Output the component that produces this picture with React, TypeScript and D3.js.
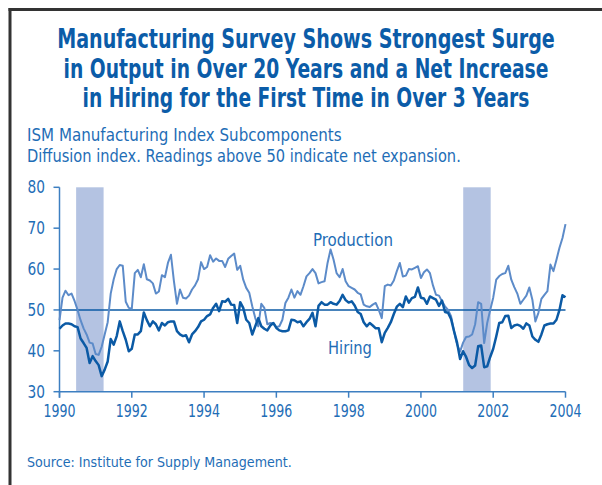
import React, { useLayoutEffect, useRef, useState } from "react";
import * as d3 from "d3";

const titleLines = [
  "Manufacturing Survey Shows Strongest Surge",
  "in Output in Over 20 Years and a Net Increase",
  "in Hiring for the First Time in Over 3 Years",
];
const subtitleLines = [
  "ISM Manufacturing Index Subcomponents",
  "Diffusion index. Readings above 50 indicate net expansion.",
];
const sourceText = "Source: Institute for Supply Management.";

const startYear = 1990;
const yTicks = [30, 40, 50, 60, 70, 80];
const xTicks = [1990, 1992, 1994, 1996, 1998, 2000, 2002, 2004];
const recessions = [
  [1990.46, 1991.22],
  [2001.17, 2001.93],
];

// Monthly, Jan 1990 - Jan 2004
const production = [
  47.5, 53, 54.7, 53.6, 54, 52.2, 50, 47.5, 45.5, 44, 42, 41.8,
  39.2, 39, 41, 44, 47, 54, 57.5, 60, 61, 60.8, 52, 50.5,
  50.3, 59, 59.8, 58, 61.2, 57.5, 57.2, 56.5, 54, 54.5, 58.5, 58,
  61.5, 63.5, 57, 51.5, 55, 53, 52.8, 53.5, 55, 56, 57.5, 61.7,
  60, 60.5, 63.4, 61.8, 62.6, 62, 62, 60.5, 62.5, 63.2, 63.8, 59.8,
  60.8, 57.4, 55.4, 54.2, 50.9, 48, 46, 51.5, 50.5, 46.5, 46.8, 46.7,
  45.8, 46, 47.6, 51.7, 53, 55, 53, 54.6, 53.7, 55.8, 58.2, 59,
  60, 59, 56.5, 56.8, 57, 61.5, 64.8, 62.3, 59, 58, 60, 57,
  55.8, 55.4, 55, 54.2, 53.8, 51.3, 50.9, 50.7, 51.3, 51.7, 50, 48,
  55.8, 56.2, 56, 57.2, 59.5, 61.5, 58.2, 58.4, 60, 59.9, 60.3, 60.7,
  57.8, 59.2, 59.9, 59, 56, 53.7, 53.5, 52.1, 50.9, 50, 48.5, 44.8,
  41.5, 39.8, 42, 43.4, 43.5, 44, 46.5, 51.9, 51.5, 41.9, 46.8, 50,
  53, 57.4, 58.3, 58.8, 59, 60.8, 57.4, 55.6, 54, 51.5, 52.5, 53.5,
  55.5, 52.5, 47.2, 49.3, 52.7, 53.7, 54.6, 61.1, 59.5, 62.3, 65.2, 67.6,
  71,
];

const hiring = [
  45.4, 46.2, 46.7, 46.7, 46.5, 46, 45.8, 43, 41.9, 40.7, 37, 38.7,
  37.5, 36.5, 33.8, 35.4, 37.4, 42.9, 41.5, 43.6, 47.2, 44.8, 42.7, 39.9,
  40.5, 44, 44, 44.8, 49.4, 47.5, 46, 47.2, 46.5, 45, 46.8, 46.2,
  47, 47.2, 47.2, 44.8, 44, 43.6, 43.8, 42.1, 44, 44.8, 45.8, 47.2,
  47.6, 48.5, 48.9, 50.5, 51.5, 49.7, 52.1, 52, 52.7, 51.3, 51.2, 46.8,
  51.9, 50.5, 47.6, 46.8, 44, 46, 48, 46, 45.4, 45, 46.2, 46.8,
  45.6, 45, 44.8, 44.8, 45, 47.6, 47.5, 47, 47.2, 46, 47, 47.8,
  49.3, 46, 51, 51.9, 51.3, 51.3, 51.9, 51.5, 51.3, 52.2, 53.7, 52.4,
  51.8, 52.1, 51.1, 49.5, 49, 47, 46, 46.8, 46.2, 45.5, 45.5, 42.1,
  44.4, 45.6, 47, 49, 50.8, 51.5, 50.7, 53.3, 51.8, 52.9, 53.2, 55.5,
  53, 52.8, 51.5, 53.3, 52.9, 52.5, 51, 52.3, 49.5, 49.3, 47.8, 44.8,
  42, 38, 39.9, 38.5, 36.5, 35.8, 36.4, 41.1, 41.3, 36, 36.2, 38.5,
  40.5, 43.5, 46.8, 47, 48.5, 48.6, 45.6, 46.2, 46.4, 46.1, 45.4, 46.7,
  46.2, 43.5, 42.7, 42.2, 44, 46.2, 46.5, 46.7, 46.7, 47.6, 50, 53.6,
  53.1,
];

const FONT = "'Liberation Sans Narrow', 'DejaVu Sans Condensed', 'Liberation Sans', sans-serif";
const TITLE_BLUE = "#0b5ca8";
const TEXT_BLUE = "#1e6db6";
const AXIS_BLUE = "#3d7fc1";
const PROD_COLOR = "#5c8bc9";
const HIRE_COLOR = "#0b5aa5";
const SHADE = "#b4c3e2";

type FitProps = {
  x: number;
  y: number;
  width: number;
  anchor?: "start" | "middle" | "end";
  fontSize: number;
  fontWeight?: string;
  fill: string;
  children: string;
};

function FitText({ x, y, width, anchor = "start", fontSize, fontWeight, fill, children }: FitProps) {
  const ref = useRef<SVGTextElement>(null);
  const [sx, setSx] = useState(1);
  useLayoutEffect(() => {
    if (ref.current) {
      const w = ref.current.getComputedTextLength();
      if (w > 0) setSx(width / w);
    }
  }, [width, children]);
  return (
    <text
      ref={ref}
      transform={`translate(${x},${y}) scale(${sx},1)`}
      textAnchor={anchor}
      fontSize={fontSize}
      fontWeight={fontWeight}
      fill={fill}
    >
      {children}
    </text>
  );
}

export default function App() {
  const W = 602;
  const H = 485;
  const x = d3.scaleLinear().domain([1990, 2004]).range([59.5, 565.5]);
  const y = d3.scaleLinear().domain([30, 80]).range([391.7, 187.3]);
  const t = (i: number) => startYear + i / 12;

  const line = d3
    .line<number>()
    .x((_, i) => x(t(i)))
    .y((d) => y(d));

  const titleLens = [498, 485, 447];
  const titleBase = [48, 78, 107];

  return (
    <svg
      width={W}
      height={H}
      style={{ position: "absolute", left: 0, top: 0, background: "#fff" }}
      fontFamily={FONT}
    >
      <rect x={0} y={0} width={W} height={H} fill="#fff" />
      {/* frame */}
      <line x1={10} y1={8} x2={10} y2={H} stroke="#333" strokeWidth={3} />
      <line x1={8.5} y1={9.5} x2={W} y2={9.5} stroke="#333" strokeWidth={3} />

      {titleLines.map((s, i) => (
        <FitText
          key={i}
          x={306}
          y={titleBase[i]}
          anchor="middle"
          fontSize={26}
          fontWeight="bold"
          fill={TITLE_BLUE}
          width={titleLens[i]}
        >
          {s}
        </FitText>
      ))}
      {subtitleLines.map((s, i) => (
        <FitText key={i} x={27} y={141 + i * 21} fontSize={17} fill={TEXT_BLUE} width={i === 0 ? 315 : 434}>
          {s}
        </FitText>
      ))}

      {/* recession shading */}
      {recessions.map((r, i) => (
        <rect
          key={i}
          x={x(r[0])}
          y={y(80)}
          width={x(r[1]) - x(r[0])}
          height={y(30) - y(80)}
          fill={SHADE}
        />
      ))}

      {/* y axis */}
      <line x1={x(1990)} y1={y(80)} x2={x(1990)} y2={y(30) + 6} stroke={AXIS_BLUE} strokeWidth={1.5} />
      {yTicks.map((v) => (
        <g key={v}>
          <line x1={x(1990) - 6} x2={x(1990)} y1={y(v)} y2={y(v)} stroke={AXIS_BLUE} strokeWidth={1.5} />
          <FitText x={45} y={y(v) + 6} anchor="end" fontSize={17} fill={TEXT_BLUE} width={17.5}>
            {String(v)}
          </FitText>
        </g>
      ))}
      {/* x axis */}
      <line x1={x(1990)} y1={y(30)} x2={x(2004)} y2={y(30)} stroke={AXIS_BLUE} strokeWidth={1.5} />
      {xTicks.map((v) => (
        <g key={v}>
          <line x1={x(v)} x2={x(v)} y1={y(30)} y2={y(30) + 6} stroke={AXIS_BLUE} strokeWidth={1.5} />
          <FitText x={x(v)} y={417} anchor="middle" fontSize={17} fill={TEXT_BLUE} width={32}>
            {String(v)}
          </FitText>
        </g>
      ))}

      {/* 50 line */}
      <line x1={x(1990)} y1={y(50)} x2={x(2004)} y2={y(50)} stroke={HIRE_COLOR} strokeWidth={1.5} />

      <path d={line(production) || ""} fill="none" stroke={PROD_COLOR} strokeWidth={2} strokeLinejoin="round" />
      <path d={line(hiring) || ""} fill="none" stroke={HIRE_COLOR} strokeWidth={2.5} strokeLinejoin="round" />

      <FitText x={313} y={246} fontSize={18} fill={TEXT_BLUE} width={80}>
        Production
      </FitText>
      <FitText x={328} y={354} fontSize={18} fill={TEXT_BLUE} width={44}>
        Hiring
      </FitText>

      <FitText x={27} y={467} fontSize={14.5} fill={TEXT_BLUE} width={265}>
        {sourceText}
      </FitText>
    </svg>
  );
}
